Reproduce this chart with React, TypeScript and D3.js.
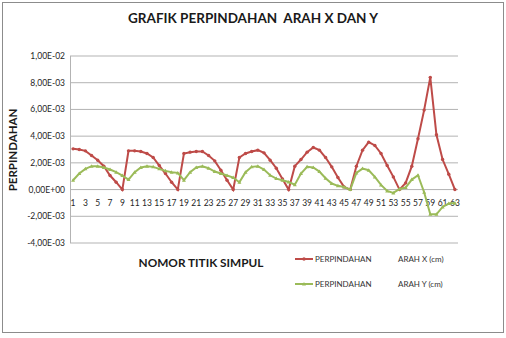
import React from "react";
import * as d3 from "d3";

const nodes = [
  1, 2, 3, 4, 5, 6, 7, 8, 9, 10, 11, 12, 13, 14, 15, 16, 17, 18, 19, 20, 21,
  22, 23, 24, 25, 26, 27, 28, 29, 30, 31, 32, 33, 34, 35, 36, 37, 38, 39, 40,
  41, 42, 43, 44, 45, 46, 47, 48, 49, 50, 51, 52, 53, 54, 55, 56, 57, 58, 59,
  60, 61, 62, 63,
];

// perpindahan arah X (cm)
const arahX = [
  3.05e-3, 3.0e-3, 2.9e-3, 2.55e-3, 2.2e-3, 1.75e-3, 1.05e-3, 0.55e-3, 0,
  2.9e-3, 2.9e-3, 2.85e-3, 2.7e-3, 2.4e-3, 1.8e-3, 1.2e-3, 0.55e-3, 0,
  2.7e-3, 2.8e-3, 2.85e-3, 2.85e-3, 2.55e-3, 2.15e-3, 1.45e-3, 0.7e-3, 0,
  2.4e-3, 2.7e-3, 2.85e-3, 2.95e-3, 2.75e-3, 2.2e-3, 1.6e-3, 0.8e-3, 0,
  1.75e-3, 2.25e-3, 2.8e-3, 3.15e-3, 2.95e-3, 2.4e-3, 1.7e-3, 0.9e-3, 0.2e-3, 0,
  1.75e-3, 2.95e-3, 3.55e-3, 3.3e-3, 2.7e-3, 1.8e-3, 0.95e-3, 0,
  0.5e-3, 1.75e-3, 3.8e-3, 5.95e-3, 8.4e-3, 4.1e-3, 2.25e-3, 1.15e-3, 0,
];

// perpindahan arah Y (cm)
const arahY = [
  0.7e-3, 1.2e-3, 1.55e-3, 1.75e-3, 1.75e-3, 1.65e-3, 1.5e-3, 1.3e-3, 1.05e-3, 0.75e-3,
  1.3e-3, 1.65e-3, 1.75e-3, 1.7e-3, 1.55e-3, 1.4e-3, 1.3e-3, 1.25e-3, 0.7e-3,
  1.3e-3, 1.65e-3, 1.75e-3, 1.6e-3, 1.35e-3, 1.2e-3, 1.05e-3, 0.9e-3, 0.55e-3,
  1.3e-3, 1.7e-3, 1.75e-3, 1.5e-3, 1.07e-3, 0.82e-3, 0.7e-3, 0.57e-3, 0.37e-3,
  1.2e-3, 1.7e-3, 1.65e-3, 1.35e-3, 0.85e-3, 0.45e-3, 0.28e-3, 0.2e-3, 0,
  1.25e-3, 1.57e-3, 1.45e-3, 0.95e-3, 0.35e-3, -0.1e-3, -0.25e-3, 0.05e-3,
  0.15e-3, 0.75e-3, 1.07e-3, -0.2e-3, -1.85e-3, -1.85e-3, -1.3e-3, -1.05e-3, -1.0e-3,
];

const yTicks = [-0.004, -0.002, 0, 0.002, 0.004, 0.006, 0.008, 0.01];
const yTickLabels = [
  "-4,00E-03", "-2,00E-03", "0,00E+00", "2,00E-03",
  "4,00E-03", "6,00E-03", "8,00E-03", "1,00E-02",
];
const xTickLabels = nodes.filter((n) => n % 2 === 1);

const seriesNames = [
  ["PERPINDAHAN", "ARAH X (cm)"],
  ["PERPINDAHAN", "ARAH Y (cm)"],
];
const colors = ["#be4b48", "#9bbb59"];

const W = 506;
const H = 338;
const font = "Lato, 'Open Sans', 'Liberation Sans', sans-serif";

export default function App() {
  const x = d3.scaleBand<number>().domain(nodes).range([70, 458]);
  const cx = (n: number) => (x(n) as number) + x.bandwidth() / 2;
  const y = d3.scaleLinear().domain([-0.004, 0.01]).range([243, 56]);

  const line = d3
    .line<number>()
    .x((_, i) => cx(nodes[i]))
    .y((d) => y(d));

  const series = [arahX, arahY];

  const marker = (k: number, px: number, py: number, key: string) =>
    k === 0 ? (
      <circle key={key} cx={px} cy={py} r={1.7} fill={colors[0]} />
    ) : (
      <path
        key={key}
        d={`M${px},${py - 2}L${px + 2},${py + 1.5}L${px - 2},${py + 1.5}Z`}
        fill={colors[1]}
      />
    );

  return (
    <svg
      width={W}
      height={H}
      style={{ position: "absolute", left: 0, top: 0, fontFamily: font }}
    >
      <rect x={0} y={0} width={W} height={H} fill="#fff" />
      <rect x={2.5} y={2.5} width={501} height={330} fill="none" stroke="#8c8c8c" />

      <text
        x={253}
        y={23}
        textAnchor="middle"
        fontSize={13.5}
        fontWeight="bold"
        fill="#1a1a1a"
        style={{ whiteSpace: "pre" }}
      >
        {"GRAFIK PERPINDAHAN  ARAH X DAN Y"}
      </text>

      {/* grid */}
      {yTicks.map((t) => (
        <line key={t} x1={70} x2={458} y1={y(t)} y2={y(t)} stroke="#b3b3b3" strokeWidth={1} />
      ))}
      <line x1={70.5} x2={70.5} y1={56} y2={243} stroke="#b3b3b3" />

      {yTicks.map((t, i) => (
        <text key={t} x={65} y={y(t) + 3} textAnchor="end" fontSize={8.5} fill="#262626">
          {yTickLabels[i]}
        </text>
      ))}

      {xTickLabels.map((n) => (
        <text key={n} x={cx(n)} y={y(0) + 16} textAnchor="middle" fontSize={8.5} fill="#262626">
          {n}
        </text>
      ))}

      <text
        transform={`translate(17,150) rotate(-90)`}
        textAnchor="middle"
        fontSize={11.5}
        fontWeight="bold"
        fill="#1a1a1a"
      >
        PERPINDAHAN
      </text>

      <text x={201} y={267} textAnchor="middle" fontSize={11.8} fontWeight="bold" fill="#1a1a1a">
        NOMOR TITIK SIMPUL
      </text>

      {series.map((s, k) => (
        <g key={k}>
          <path d={line(s) || ""} fill="none" stroke={colors[k]} strokeWidth={2} />
          {s.map((v, i) => marker(k, cx(nodes[i]), y(v), `${k}-${i}`))}
        </g>
      ))}

      {/* legend */}
      {seriesNames.map((nm, k) => {
        const ly = 259 + k * 25;
        return (
          <g key={k}>
            <line x1={295} x2={313} y1={ly} y2={ly} stroke={colors[k]} strokeWidth={2} />
            {marker(k, 304, ly, `lg-${k}`)}
            <text x={315} y={ly + 3} fontSize={8} fill="#333">
              {nm[0]}
            </text>
            <text x={398} y={ly + 3} fontSize={8} fill="#333">
              {nm[1]}
            </text>
          </g>
        );
      })}
    </svg>
  );
}
